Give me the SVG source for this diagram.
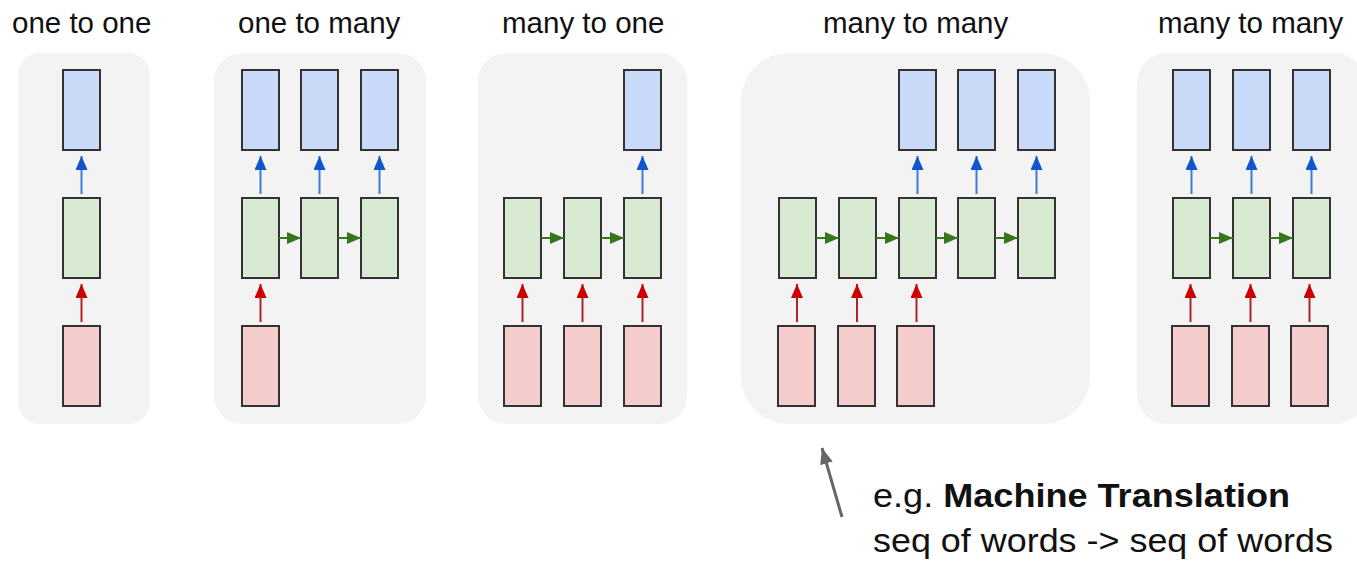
<svg xmlns="http://www.w3.org/2000/svg" width="1357" height="567" viewBox="0 0 1357 567">
  <style>
    .panel { fill: #f3f3f3; }
    .title { font-family: "Liberation Sans", Arial, sans-serif; font-size: 29.5px; fill: #111; }
    .note { font-family: "Liberation Sans", Arial, sans-serif; font-size: 34px; fill: #111; }
    .b { font-weight: bold; }
    .out { fill: #c9daf8; stroke: #333; stroke-width: 2; }
    .hid { fill: #d9ead3; stroke: #333; stroke-width: 2; }
    .inp { fill: #f4cccc; stroke: #333; stroke-width: 2; }
    .ab { stroke: #3c78d8; stroke-width: 2; fill: none; marker-end: url(#hb); }
    .ag { stroke: #38761d; stroke-width: 2; fill: none; marker-end: url(#hg); }
    .ar { stroke: #b22222; stroke-width: 2; fill: none; marker-end: url(#hr); }
    .ak { stroke: #666; stroke-width: 3; fill: none; marker-end: url(#hk); }
  </style>
  <defs>
    <marker id="hb" viewBox="0 0 14 12" refX="14" refY="6" markerWidth="14" markerHeight="12" markerUnits="userSpaceOnUse" orient="auto"><path d="M0,0 L14,6 L0,12 z" fill="#1155cc"/></marker>
    <marker id="hg" viewBox="0 0 14 12" refX="14" refY="6" markerWidth="14" markerHeight="12" markerUnits="userSpaceOnUse" orient="auto"><path d="M0,0 L14,6 L0,12 z" fill="#38761d"/></marker>
    <marker id="hr" viewBox="0 0 14 12" refX="14" refY="6" markerWidth="14" markerHeight="12" markerUnits="userSpaceOnUse" orient="auto"><path d="M0,0 L14,6 L0,12 z" fill="#cc0000"/></marker>
    <marker id="hk" viewBox="0 0 16 13" refX="16" refY="6.5" markerWidth="16" markerHeight="13" markerUnits="userSpaceOnUse" orient="auto"><path d="M0,0 L16,6.5 L0,13 z" fill="#666"/></marker>
  </defs>

  <rect width="1357" height="567" fill="#ffffff"/>

  <!-- panels -->
  <g id="panels">
    <rect class="panel" x="18" y="53" width="132" height="371" rx="22"/>
    <rect class="panel" x="214" y="53" width="212" height="371" rx="28"/>
    <rect class="panel" x="478" y="53" width="209" height="371" rx="28"/>
    <rect class="panel" x="741" y="53" width="349" height="371" rx="48"/>
    <rect class="panel" x="1137" y="53" width="228" height="371" rx="30"/>
  </g>

  <!-- titles -->
  <g id="titles">
    <text class="title" x="12" y="33">one to one</text>
    <text class="title" x="238" y="33">one to many</text>
    <text class="title" x="502" y="33">many to one</text>
    <text class="title" x="823" y="33">many to many</text>
    <text class="title" x="1158" y="33">many to many</text>
  </g>

  <!-- one to one -->
  <g id="p1">
    <rect id="p1-out" class="out" x="63" y="70" width="37" height="80"/>
    <rect id="p1-hid" class="hid" x="63" y="198" width="37" height="80"/>
    <rect id="p1-in" class="inp" x="63" y="326" width="37" height="80"/>
  </g>

  <!-- one to many -->
  <g id="p2">
    <rect class="out" x="242" y="70" width="37" height="80"/>
    <rect class="out" x="301" y="70" width="37" height="80"/>
    <rect class="out" x="361" y="70" width="37" height="80"/>
    <rect class="hid" x="242" y="198" width="37" height="80"/>
    <rect class="hid" x="301" y="198" width="37" height="80"/>
    <rect class="hid" x="361" y="198" width="37" height="80"/>
    <rect class="inp" x="242" y="326" width="37" height="80"/>
  </g>

  <!-- many to one -->
  <g id="p3">
    <rect class="out" x="624" y="70" width="37" height="80"/>
    <rect class="hid" x="504" y="198" width="37" height="80"/>
    <rect class="hid" x="564" y="198" width="37" height="80"/>
    <rect class="hid" x="624" y="198" width="37" height="80"/>
    <rect class="inp" x="504" y="326" width="37" height="80"/>
    <rect class="inp" x="564" y="326" width="37" height="80"/>
    <rect class="inp" x="624" y="326" width="37" height="80"/>
  </g>

  <!-- many to many (delayed) -->
  <g id="p4">
    <rect class="out" x="899" y="70" width="37" height="80"/>
    <rect class="out" x="958" y="70" width="37" height="80"/>
    <rect class="out" x="1018" y="70" width="37" height="80"/>
    <rect class="hid" x="779" y="198" width="37" height="80"/>
    <rect class="hid" x="839" y="198" width="37" height="80"/>
    <rect class="hid" x="899" y="198" width="37" height="80"/>
    <rect class="hid" x="958" y="198" width="37" height="80"/>
    <rect class="hid" x="1018" y="198" width="37" height="80"/>
    <rect class="inp" x="778" y="326" width="37" height="80"/>
    <rect class="inp" x="838" y="326" width="37" height="80"/>
    <rect class="inp" x="897" y="326" width="37" height="80"/>
  </g>

  <!-- many to many (synced) -->
  <g id="p5">
    <rect class="out" x="1173" y="70" width="37" height="80"/>
    <rect class="out" x="1233" y="70" width="37" height="80"/>
    <rect class="out" x="1293" y="70" width="37" height="80"/>
    <rect class="hid" x="1173" y="198" width="37" height="80"/>
    <rect class="hid" x="1233" y="198" width="37" height="80"/>
    <rect class="hid" x="1293" y="198" width="37" height="80"/>
    <rect class="inp" x="1172" y="326" width="37" height="80"/>
    <rect class="inp" x="1232" y="326" width="37" height="80"/>
    <rect class="inp" x="1291" y="326" width="37" height="80"/>
  </g>

  <!-- connectors -->
  <g id="connectors">
    <!-- p1 -->
    <line class="ab" x1="81.5" y1="194" x2="81.5" y2="156"/>
    <line class="ar" x1="81.5" y1="322" x2="81.5" y2="284"/>
    <!-- p2 -->
    <line class="ab" x1="260.5" y1="194" x2="260.5" y2="156"/>
    <line class="ab" x1="319.5" y1="194" x2="319.5" y2="156"/>
    <line class="ab" x1="379.5" y1="194" x2="379.5" y2="156"/>
    <line class="ag" x1="279" y1="238" x2="301" y2="238"/>
    <line class="ag" x1="338" y1="238" x2="361" y2="238"/>
    <line class="ar" x1="260.5" y1="322" x2="260.5" y2="284"/>
    <!-- p3 -->
    <line class="ab" x1="642.5" y1="194" x2="642.5" y2="156"/>
    <line class="ag" x1="541" y1="238" x2="564" y2="238"/>
    <line class="ag" x1="601" y1="238" x2="624" y2="238"/>
    <line class="ar" x1="522.5" y1="322" x2="522.5" y2="284"/>
    <line class="ar" x1="582.5" y1="322" x2="582.5" y2="284"/>
    <line class="ar" x1="642.5" y1="322" x2="642.5" y2="284"/>
    <!-- p4 -->
    <line class="ab" x1="917.5" y1="194" x2="917.5" y2="156"/>
    <line class="ab" x1="976.5" y1="194" x2="976.5" y2="156"/>
    <line class="ab" x1="1036.5" y1="194" x2="1036.5" y2="156"/>
    <line class="ag" x1="816" y1="238" x2="839" y2="238"/>
    <line class="ag" x1="876" y1="238" x2="899" y2="238"/>
    <line class="ag" x1="936" y1="238" x2="958" y2="238"/>
    <line class="ag" x1="995" y1="238" x2="1018" y2="238"/>
    <line class="ar" x1="797" y1="322" x2="797" y2="284"/>
    <line class="ar" x1="857" y1="322" x2="857" y2="284"/>
    <line class="ar" x1="916.5" y1="322" x2="916.5" y2="284"/>
    <!-- p5 -->
    <line class="ab" x1="1191.5" y1="194" x2="1191.5" y2="156"/>
    <line class="ab" x1="1251.5" y1="194" x2="1251.5" y2="156"/>
    <line class="ab" x1="1311.5" y1="194" x2="1311.5" y2="156"/>
    <line class="ag" x1="1210" y1="238" x2="1233" y2="238"/>
    <line class="ag" x1="1270" y1="238" x2="1293" y2="238"/>
    <line class="ar" x1="1190.5" y1="322" x2="1190.5" y2="284"/>
    <line class="ar" x1="1250.5" y1="322" x2="1250.5" y2="284"/>
    <line class="ar" x1="1309.5" y1="322" x2="1309.5" y2="284"/>
    <!-- annotation pointer -->
    <line class="ak" x1="842" y1="517" x2="822" y2="448"/>
  </g>

  <!-- annotation -->
  <g id="note">
    <text class="note" x="873" y="507" textLength="417" lengthAdjust="spacingAndGlyphs">e.g. <tspan class="b">Machine Translation</tspan></text>
    <text class="note" x="873" y="552" textLength="460" lengthAdjust="spacingAndGlyphs">seq of words -&gt; seq of words</text>
  </g>
</svg>
